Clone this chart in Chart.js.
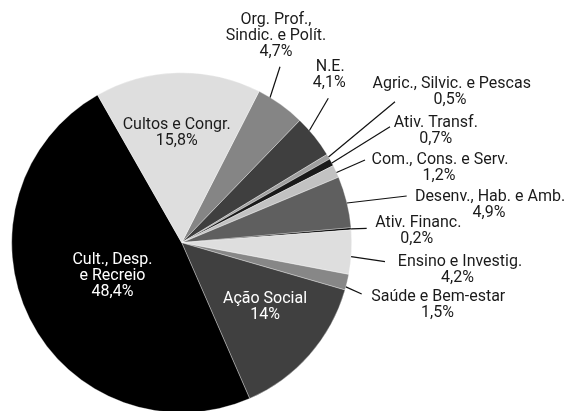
<!DOCTYPE html>
<html>
<head>
<meta charset="utf-8">
<script src="https://cdn.jsdelivr.net/npm/chart.js@4"></script>
<style>
html,body{margin:0;padding:0;background:#fff;overflow:hidden;}
#wrap{position:relative;width:574px;height:420px;}
</style>
</head>
<body>
<div id="wrap"><canvas id="c"></canvas></div>
<script>
// ---- data ----
const categories = [
  ["Org. Prof.,", "Sindic. e Polít."],
  ["N.E."],
  ["Agric., Silvic. e Pescas"],
  ["Ativ. Transf."],
  ["Com., Cons. e Serv."],
  ["Desenv., Hab. e Amb."],
  ["Ativ. Financ."],
  ["Ensino e Investig."],
  ["Saúde e Bem-estar"],
  ["Ação Social"],
  ["Cult., Desp.", "e Recreio"],
  ["Cultos e Congr."]
];
const values = [4.7, 4.1, 0.5, 0.7, 1.2, 4.9, 0.2, 4.2, 1.5, 14, 48.4, 15.8];
const valueLabels = ["4,7%", "4,1%", "0,5%", "0,7%", "1,2%", "4,9%", "0,2%", "4,2%", "1,5%", "14%", "48,4%", "15,8%"];

// ---- styles ----
const sliceColors = ["#858585", "#3f3f3f", "#a0a0a0", "#1a1a1a", "#c2c2c2", "#5f5f5f",
                     "#000000", "#dedede", "#878787", "#404040", "#000000", "#dedede"];
const textColors = ["#1a1a1a","#1a1a1a","#1a1a1a","#1a1a1a","#1a1a1a","#1a1a1a",
                    "#1a1a1a","#1a1a1a","#1a1a1a","#ffffff","#ffffff","#1a1a1a"];
// label layout relative to pie centre: [dx, dy of first line, percent line dx, line start dx, dy, arc fraction]
const labelLayout = [
  {tx: 94.3, ty: -222.7, px: 94.3, lx: 98.3, ly: -176, f: 0.25},
  {tx: 148.5, ty: -175.7, px: 147.5, lx: 146.6, ly: -144.4, f: 0.32},
  {tx: 270, ty: -159, px: 268.3, lx: 213.3, ly: -141, f: 0.55},
  {tx: 254.1, ty: -119.4, px: 254.1, lx: 208.3, ly: -116, f: 0.6},
  {tx: 258.3, ty: -82.7, px: 257.3, lx: 183.3, ly: -82.7, f: 0.6},
  {tx: 308.3, ty: -46, px: 307.3, lx: 225, ly: -46.7, f: 0.52},
  {tx: 236.6, ty: -19.4, px: 235, lx: 185, ly: -14.4, f: 0.5},
  {tx: 278.3, ty: 19, px: 275.8, lx: 203.3, ly: 19, f: 0.6},
  {tx: 256.6, ty: 54, px: 255.8, lx: 180, ly: 51.3, f: 0.8},
  {tx: 83.3, ty: 56.6, px: 83.3, inside: true},
  {tx: -69.2, ty: 17.3, px: -69.2, inside: true},
  {tx: -5, ty: -117.7, px: -5, inside: true}
];
const FONT = '16px Roboto';
const LINE_H = 16;

const labelPlugin = {
  id: 'labels',
  afterDatasetsDraw(chart) {
    const ctx = chart.ctx;
    const meta = chart.getDatasetMeta(0);
    ctx.save();
    ctx.font = FONT;
    ctx.textAlign = 'center';
    ctx.textBaseline = 'middle';
    meta.data.forEach((arc, i) => {
      const p = arc.getProps(['x','y','startAngle','endAngle','outerRadius'], true);
      const L = labelLayout[i];
      if (!L.inside) {
        const a = p.startAngle + L.f * (p.endAngle - p.startAngle);
        const ex = p.x + p.outerRadius * Math.cos(a);
        const ey = p.y + p.outerRadius * Math.sin(a);
        ctx.beginPath();
        ctx.strokeStyle = '#111';
        ctx.lineWidth = 1.2;
        ctx.moveTo(p.x + L.lx, p.y + L.ly);
        ctx.lineTo(ex, ey);
        ctx.stroke();
      }
      ctx.fillStyle = textColors[i];
      const lines = categories[i];
      lines.forEach((t, k) => {
        ctx.fillText(t, p.x + L.tx, p.y + L.ty + k * LINE_H);
      });
      ctx.fillText(valueLabels[i], p.x + L.px, p.y + L.ty + lines.length * LINE_H);
    });
    ctx.restore();
  }
};

new Chart(document.getElementById('c'), {
  type: 'pie',
  data: {
    labels: categories.map(c => c.join(' ')),
    datasets: [{
      data: values,
      backgroundColor: sliceColors,
      borderColor: 'rgba(255,255,255,0.55)',
      borderWidth: 0.6
    }]
  },
  options: {
    responsive: true,
    maintainAspectRatio: false,
    animation: false,
    rotation: 27.1,
    radius: 170,
    layout: {padding: {left: 11.7, right: 222.3, top: 72.7, bottom: 7.3}},
    plugins: {legend: {display: false}, tooltip: {enabled: false}}
  },
  plugins: [labelPlugin]
});
</script>
</body>
</html>
